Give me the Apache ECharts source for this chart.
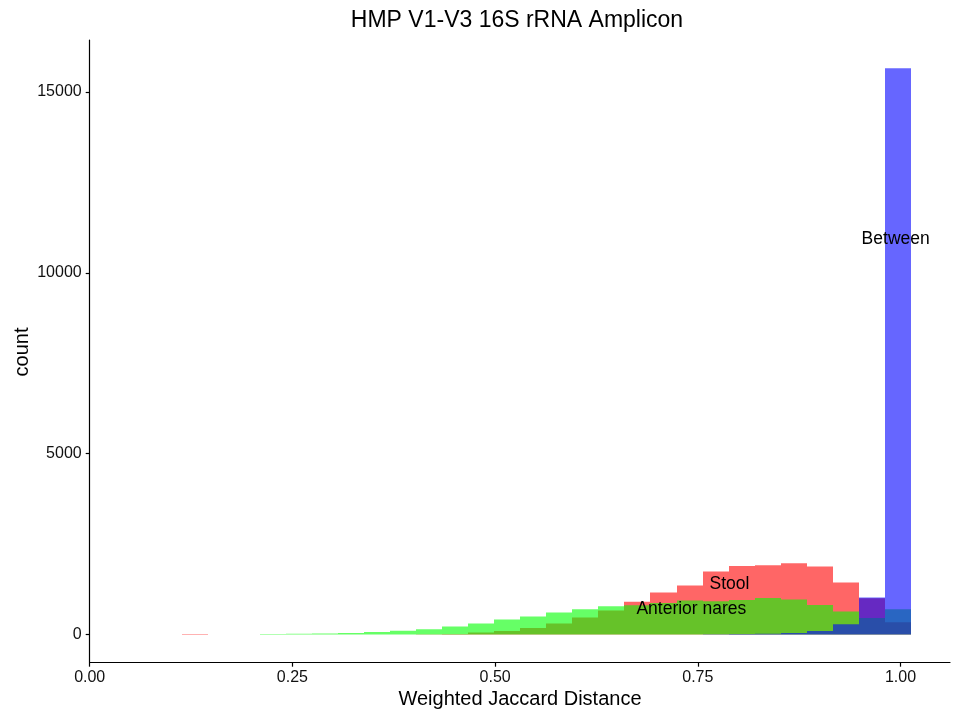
<!DOCTYPE html>
<html>
<head>
<meta charset="utf-8">
<script src="https://cdn.jsdelivr.net/npm/echarts@6/dist/echarts.min.js"></script>
<style>
html,body{margin:0;padding:0;background:#fff;}
#chart{width:960px;height:720px;}
</style>
</head>
<body>
<div id="chart"></div>
<script>
// Histogram bin edges (31 edges -> 30 bins)
const binEdges = [0.0492,0.0813,0.1134,0.1456,0.1777,0.2098,0.2419,0.2740,0.3062,0.3383,
  0.3704,0.4025,0.4346,0.4668,0.4989,0.5310,0.5631,0.5952,0.6274,0.6595,
  0.6916,0.7237,0.7558,0.7880,0.8201,0.8522,0.8843,0.9164,0.9486,0.9807,1.0128];

const stoolCounts = [0,0,10,0,0,0,0,0,0,0,0,5,10,55,95,180,300,470,660,905,1160,1355,1740,1894,1913,1968,1877,1435,1000,335];
const naresCounts = [0,0,0,0,0,8,15,25,40,63,100,140,220,303,414,497,607,698,781,805,870,935,915,950,1005,966,815,630,455,698];
const betweenCounts = [0,0,0,0,0,0,0,0,0,0,0,0,0,0,0,0,0,0,0,0,0,0,5,10,18,40,91,284,1020,15654];

const seriesNames = ['Stool','Anterior nares','Between'];
const seriesColors = ['rgba(255,0,0,0.6)','rgba(0,255,0,0.6)','rgba(0,0,255,0.6)'];

const xTicks = [0,0.25,0.5,0.75,1.0];
const yTicks = [0,5000,10000,15000];

const labelTexts = ['Between','Stool','Anterior nares'];
const labelX = [0.994,0.789,0.742];
const labelY = [10930,1383,699];

const FONT = '"Liberation Sans", Arial, Helvetica, sans-serif';

function histData(counts){
  const out = [];
  counts.forEach((c,i)=>{ if(c>0) out.push([binEdges[i], binEdges[i+1], c]); });
  return out;
}

function makeHist(name, counts, color){
  return {
    type:'custom', name:name, data:histData(counts), clip:true,
    encode:{x:[0,1], y:2},
    renderItem:function(params, api){
      const p0 = api.coord([api.value(0), 0]);
      const p1 = api.coord([api.value(1), api.value(2)]);
      const xa = Math.round(p0[0]), xb = Math.round(p1[0]);
      return {type:'rect',
        shape:{x:xa, y:p1[1], width:xb-xa, height:p0[1]-p1[1]},
        style:{fill:color, stroke:null, lineWidth:0}};
    }
  };
}

function renderLabel(params, api){
  const p = api.coord([api.value(0), api.value(1)]);
  return {type:'text', x:p[0], y:p[1],
    style:{text:labelTexts[params.dataIndex], font:'17.5px '+FONT, fill:'#000', opacity:1,
      textAlign:'center', textVerticalAlign:'middle'}};
}

const chart = echarts.init(document.getElementById('chart'), null, {renderer:'canvas'});
const option = {
  animation:false,
  backgroundColor:'#fff',
  grid:{left:89.7, right:10, top:40, bottom:57.3, containLabel:false},
  xAxis:{
    type:'value', min:0, max:1.061,
    splitLine:{show:false},
    axisLine:{show:true, onZero:false, lineStyle:{color:'#000', width:1.2}},
    axisTick:{show:true, length:4, lineStyle:{color:'#000', width:1.2}, customValues:xTicks},
    axisLabel:{customValues:xTicks, formatter:v=>v.toFixed(2), fontSize:16, color:'#111', fontFamily:FONT, margin:7}
  },
  yAxis:{
    type:'value', min:-782.7, max:16436.7,
    splitLine:{show:false},
    axisLine:{show:true, onZero:false, lineStyle:{color:'#000', width:1.2}},
    axisTick:{show:true, length:4, lineStyle:{color:'#000', width:1.2}, customValues:yTicks},
    axisLabel:{customValues:yTicks, formatter:v=>String(v), fontSize:16, color:'#111', fontFamily:FONT, margin:8}
  },
  graphic:[
    {type:'text', x:517, y:21, style:{text:'HMP V1-V3 16S rRNA Amplicon', font:'23px '+FONT, fill:'#000', textAlign:'center', textVerticalAlign:'middle'}},
    {type:'text', x:520, y:699, style:{text:'Weighted Jaccard Distance', font:'20px '+FONT, fill:'#000', textAlign:'center', textVerticalAlign:'middle'}},
    {type:'text', x:22, y:352, rotation:Math.PI/2, style:{text:'count', font:'20px '+FONT, fill:'#000', textAlign:'center', textVerticalAlign:'middle'}}
  ],
  series:[
    makeHist(seriesNames[0], stoolCounts, seriesColors[0]),
    makeHist(seriesNames[1], naresCounts, seriesColors[1]),
    makeHist(seriesNames[2], betweenCounts, seriesColors[2]),
    {
      type:'custom', silent:true, clip:false,
      data:labelTexts.map((t,i)=>[labelX[i], labelY[i]]),
      encode:{x:0, y:1},
      renderItem:renderLabel
    }
  ]
};
chart.setOption(option);
</script>
</body>
</html>
